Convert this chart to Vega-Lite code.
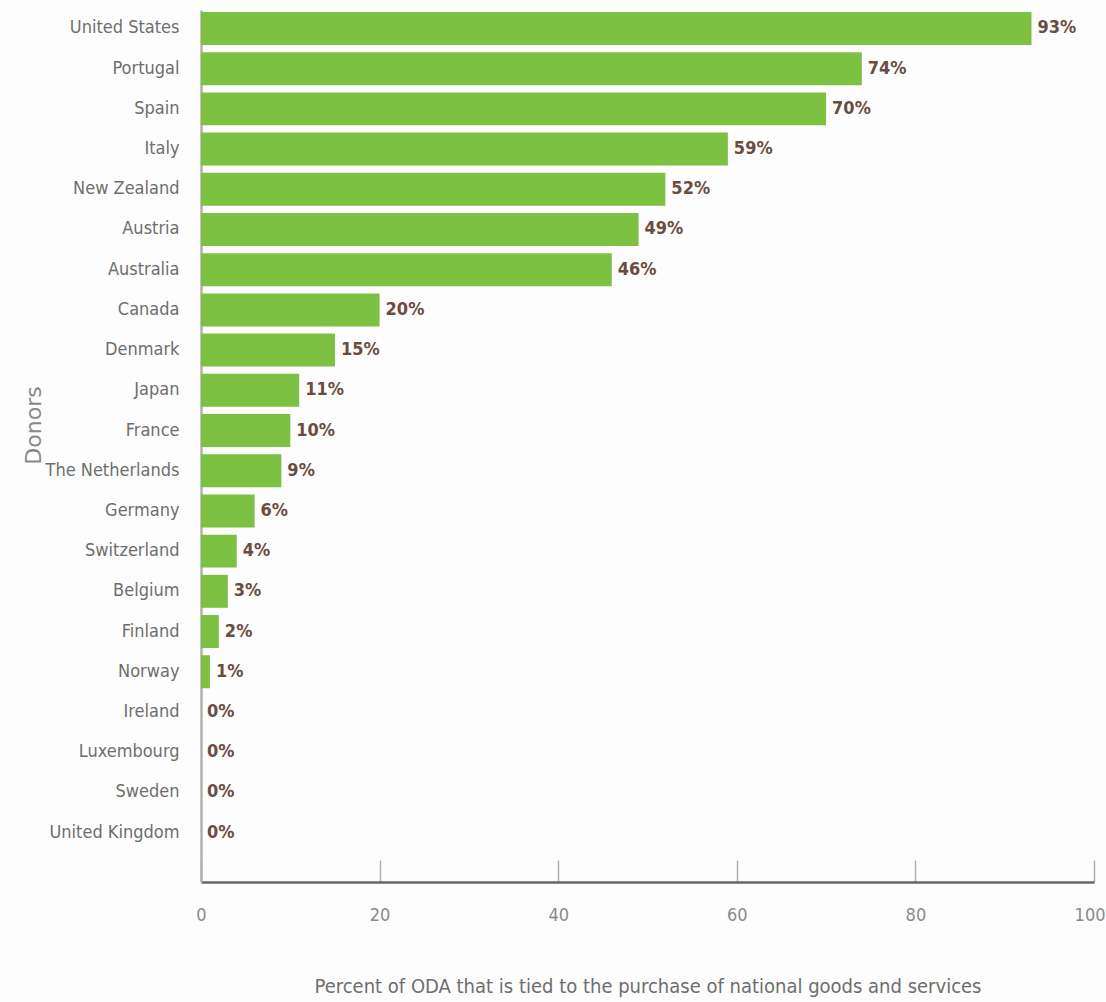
{
  "$schema": "https://vega.github.io/schema/vega-lite/v6.json",
  "autosize": {"type": "none"},
  "padding": {"left": 201, "top": 10, "right": 12, "bottom": 120},
  "width": 893,
  "height": 872,
  "background": "#fdfdfd",
  "data": {
    "values": [
      {"donor": "United States", "pct": 93},
      {"donor": "Portugal", "pct": 74},
      {"donor": "Spain", "pct": 70},
      {"donor": "Italy", "pct": 59},
      {"donor": "New Zealand", "pct": 52},
      {"donor": "Austria", "pct": 49},
      {"donor": "Australia", "pct": 46},
      {"donor": "Canada", "pct": 20},
      {"donor": "Denmark", "pct": 15},
      {"donor": "Japan", "pct": 11},
      {"donor": "France", "pct": 10},
      {"donor": "The Netherlands", "pct": 9},
      {"donor": "Germany", "pct": 6},
      {"donor": "Switzerland", "pct": 4},
      {"donor": "Belgium", "pct": 3},
      {"donor": "Finland", "pct": 2},
      {"donor": "Norway", "pct": 1},
      {"donor": "Ireland", "pct": 0},
      {"donor": "Luxembourg", "pct": 0},
      {"donor": "Sweden", "pct": 0},
      {"donor": "United Kingdom", "pct": 0}
    ]
  },
  "transform": [{"calculate": "datum.pct + '%'", "as": "label"}],
  "encoding": {
    "y": {
      "field": "donor",
      "type": "nominal",
      "sort": null,
      "scale": {"paddingInner": 0.18, "paddingOuter": 0.435, "align": 0.057},
      "axis": {
        "title": "Donors",
        "titleFont": "DejaVu Sans",
        "titleFontSize": 22,
        "titleFontWeight": "normal",
        "titleColor": "#8a8a8a",
        "titleX": -168,
        "titleY": 415,
        "titleBaseline": "middle",
        "titleAlign": "center",
        "titleAngle": -90,
        "labelFont": "DejaVu Sans Condensed",
        "labelFontSize": 18,
        "labelColor": "#6e6e6e",
        "labelPadding": 22,
        "ticks": false,
        "domainColor": "#b0b0b0",
        "domainWidth": 2.5
      }
    },
    "x": {
      "field": "pct",
      "type": "quantitative",
      "scale": {"domain": [0, 100], "nice": false},
      "axis": {
        "title": "Percent of ODA that is tied to the purchase of national goods and services",
        "titleFont": "DejaVu Sans Condensed",
        "titleFontSize": 20,
        "titleFontWeight": "normal",
        "titleColor": "#6e6e6e",
        "titlePadding": 52,
        "labelFont": "DejaVu Sans Condensed",
        "labelFontSize": 18,
        "labelColor": "#8a8a8a",
        "labelPadding": 46,
        "labelAlign": {"condition": {"test": "datum.value == 100", "value": "right"}, "value": "center"},
        "labelOffset": {"condition": {"test": "datum.value == 100", "value": 11}, "value": 0},
        "values": [0, 20, 40, 60, 80, 100],
        "tickSize": -22,
        "tickColor": "#b0b0b0",
        "tickWidth": 1.5,
        "domainColor": "#666666",
        "domainWidth": 2.5,
        "grid": false,
        "labelFlush": false
      }
    }
  },
  "layer": [
    {"mark": {"type": "bar", "color": "#7dc142"}},
    {
      "mark": {
        "type": "text",
        "align": "left",
        "baseline": "middle",
        "dx": 6,
        "font": "DejaVu Sans Condensed",
        "fontSize": 18,
        "fontWeight": "bold",
        "color": "#6b4c40"
      },
      "encoding": {"text": {"field": "label", "type": "nominal"}}
    }
  ],
  "config": {"view": {"stroke": null}}
}
